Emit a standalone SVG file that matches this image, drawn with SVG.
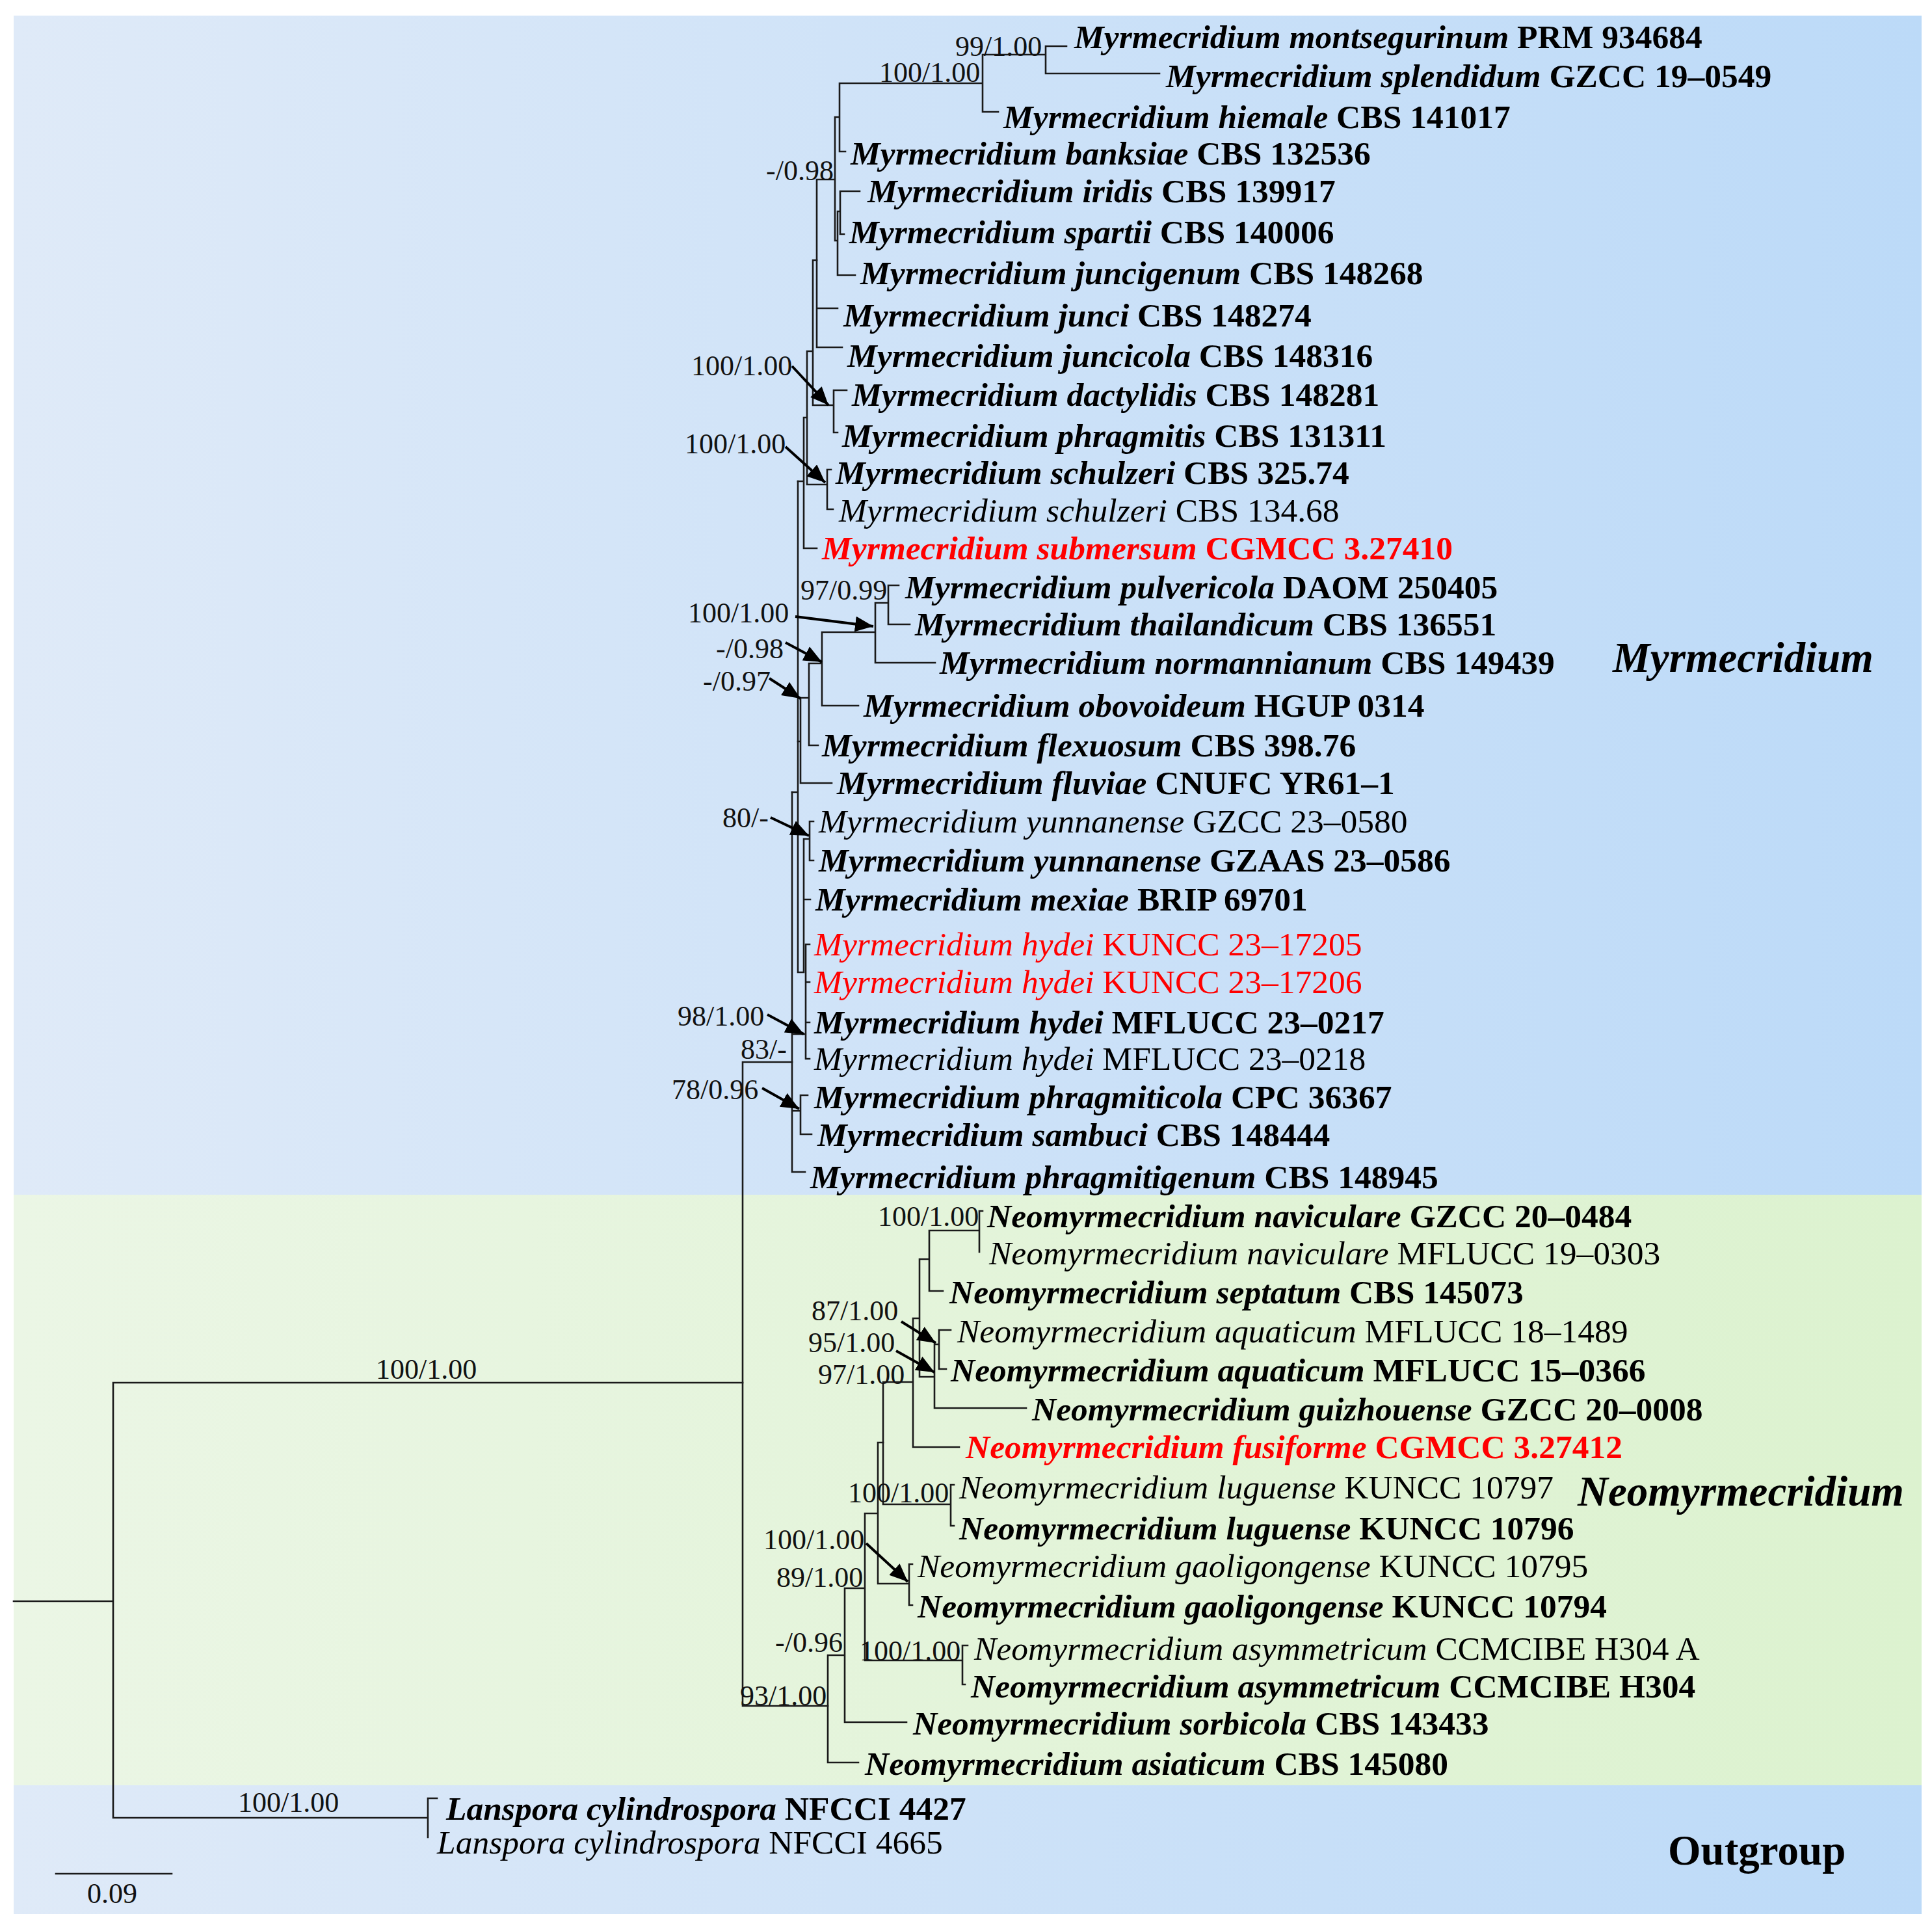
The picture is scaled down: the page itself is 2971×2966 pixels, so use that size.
<svg xmlns="http://www.w3.org/2000/svg" width="2971" height="2966" viewBox="0 0 2971 2966">
<defs>
<linearGradient id="gBlue" x1="0" y1="0" x2="1" y2="0"><stop offset="0" stop-color="#dfeaf8"/><stop offset="1" stop-color="#bcdaf8"/></linearGradient>
<linearGradient id="gGreen" x1="0" y1="0" x2="1" y2="0"><stop offset="0" stop-color="#ebf6e5"/><stop offset="1" stop-color="#dcf2cf"/></linearGradient>
<marker id="ah" markerUnits="userSpaceOnUse" markerWidth="30" markerHeight="24" refX="28" refY="12" orient="auto"><path d="M0,0 L28,12 L0,24 z" fill="#000"/></marker>
<style>
.t{font-family:"Liberation Serif","Times New Roman",serif;font-size:51.5px;fill:#000}
.b{font-weight:bold}
.i{font-style:italic}
.red{fill:#ff0000}
.lab{font-family:"Liberation Serif","Times New Roman",serif;font-size:44px;fill:#111}
.clade{font-family:"Liberation Serif","Times New Roman",serif;font-size:65px;font-weight:bold;fill:#000}
.tree{fill:none;stroke:#1a1a1a;stroke-width:2.6;stroke-linecap:square}
.arr{fill:none;stroke:#000;stroke-width:4}
</style>
</defs>
<rect width="2971" height="2966" fill="#ffffff"/>
<g id="panels">
<rect x="21" y="24" width="2934" height="1813" fill="url(#gBlue)"/>
<rect x="21" y="1837" width="2934" height="908" fill="url(#gGreen)"/>
<rect x="21" y="2745" width="2934" height="198" fill="url(#gBlue)"/>
</g>
<g id="connectors" class="tree">
<path d="M21,2462 H174 M174,2126 V2795 M174,2126 H1142 M174,2795 H658 M658,2765 V2825 M658,2765 H672"/>
<path d="M1142,1633 V2623 M1142,1633 H1218 M1142,2623 H1273"/>
<path d="M1218,1218 V1802 M1218,1802 H1238 M1218,1708 H1231 M1231,1684 V1744 M1231,1684 H1242 M1231,1744 H1248 M1218,1590 H1239 M1239,1452 V1628 M1239,1452 H1245 M1239,1510 H1245 M1239,1572 H1245 M1239,1628 H1245"/>
<path d="M1218,1218 H1227 M1227,740 V1495 M1227,1495 H1236 M1236,1290 V1495 M1236,1290 H1245 M1245,1263 V1323 M1245,1263 H1251 M1245,1323 H1251 M1236,1383 H1246"/>
<path d="M1227,1140 H1231 M1231,1073 V1204 M1231,1204 H1279 M1231,1073 H1244 M1244,1020 V1146 M1244,1146 H1258 M1244,1020 H1264 M1264,972 V1085 M1264,1085 H1320 M1264,972 H1346 M1346,927 V1019 M1346,1019 H1438 M1346,927 H1366 M1366,900 V960 M1366,900 H1382 M1366,960 H1399"/>
<path d="M1227,740 H1236 M1236,642 V843 M1236,843 H1256 M1236,642 H1241 M1241,540 V745 M1241,745 H1272 M1272,722 V783 M1272,722 H1278 M1272,783 H1281 M1241,540 H1250 M1250,400 V623 M1250,623 H1282 M1282,600 V665 M1282,600 H1302 M1282,665 H1288 M1250,400 H1256"/>
<path d="M1256,276 V534 M1256,474 H1288 M1256,534 H1295 M1256,276 H1284 M1284,180 V370 M1284,180 H1291 M1291,128 V233 M1291,233 H1300 M1291,128 H1511 M1511,84 V172 M1511,172 H1535 M1511,84 H1608 M1608,71 V113 M1608,71 H1640 M1608,113 H1783 M1284,370 H1288 M1288,325 V423 M1288,423 H1315 M1288,325 H1292 M1292,294 V360 M1292,294 H1322 M1292,360 H1298"/>
<path d="M1273,2545 V2710 M1273,2710 H1320 M1273,2545 H1299 M1299,2442 V2648 M1299,2648 H1394 M1299,2442 H1330 M1330,2327 V2553 M1330,2553 H1480 M1480,2530 V2590 M1480,2530 H1488 M1480,2590 H1484 M1330,2327 H1350 M1350,2218 V2435 M1350,2435 H1398 M1398,2405 V2468 M1398,2405 H1403 M1398,2468 H1403 M1350,2218 H1358"/>
<path d="M1358,2125 V2313 M1358,2313 H1462 M1462,2283 V2346 M1462,2283 H1467 M1462,2346 H1467 M1358,2125 H1404 M1404,2027 V2225 M1404,2225 H1475 M1404,2027 H1414 M1414,1936 V2117 M1414,1936 H1429 M1414,2117 H1437 M1437,2067 V2165 M1437,2165 H1578 M1437,2067 H1444 M1444,2045 V2105 M1444,2045 H1462 M1444,2105 H1455 M1429,1892 V1985 M1429,1985 H1450 M1429,1892 H1506 M1506,1862 V1925 M1506,1862 H1511"/>
<path d="M86,2881 H264"/>
</g>
<g id="arrows" class="arr">
<line x1="1218" y1="563" x2="1274" y2="623" marker-end="url(#ah)"/>
<line x1="1208" y1="687" x2="1269" y2="742" marker-end="url(#ah)"/>
<line x1="1223" y1="948" x2="1343" y2="963" marker-end="url(#ah)"/>
<line x1="1208" y1="988" x2="1264" y2="1018" marker-end="url(#ah)"/>
<line x1="1183" y1="1043" x2="1231" y2="1074" marker-end="url(#ah)"/>
<line x1="1185" y1="1257" x2="1244" y2="1285" marker-end="url(#ah)"/>
<line x1="1180" y1="1560" x2="1236" y2="1590" marker-end="url(#ah)"/>
<line x1="1172" y1="1673" x2="1229" y2="1705" marker-end="url(#ah)"/>
<line x1="1386" y1="2032" x2="1439" y2="2065" marker-end="url(#ah)"/>
<line x1="1378" y1="2077" x2="1437" y2="2110" marker-end="url(#ah)"/>
<line x1="1332" y1="2373" x2="1396" y2="2432" marker-end="url(#ah)"/>
</g>
<g id="support-labels" class="lab">
<text x="1469" y="86">99/1.00</text>
<text x="1352" y="126">100/1.00</text>
<text x="1178" y="277">-/0.98</text>
<text x="1063" y="577">100/1.00</text>
<text x="1053" y="697">100/1.00</text>
<text x="1231" y="922">97/0.99</text>
<text x="1058" y="957">100/1.00</text>
<text x="1101" y="1012">-/0.98</text>
<text x="1081" y="1062">-/0.97</text>
<text x="1111" y="1272">80/-</text>
<text x="1042" y="1577">98/1.00</text>
<text x="1139" y="1628">83/-</text>
<text x="1033" y="1690">78/0.96</text>
<text x="1350" y="1885">100/1.00</text>
<text x="1248" y="2030">87/1.00</text>
<text x="1243" y="2079">95/1.00</text>
<text x="1258" y="2128">97/1.00</text>
<text x="1304" y="2310">100/1.00</text>
<text x="1174" y="2382">100/1.00</text>
<text x="1194" y="2440">89/1.00</text>
<text x="1192" y="2540">-/0.96</text>
<text x="1322" y="2553">100/1.00</text>
<text x="1138" y="2622">93/1.00</text>
<text x="578" y="2120">100/1.00</text>
<text x="366" y="2786">100/1.00</text>
<text x="134" y="2926">0.09</text>
</g>
<g id="tips">
<g id="n1"><text class="t b" x="1652" y="74"><tspan class="i">Myrmecridium montsegurinum</tspan> PRM 934684</text></g>
<g id="n2"><text class="t b" x="1793" y="134"><tspan class="i">Myrmecridium splendidum</tspan> GZCC 19–0549</text></g>
<g id="n3"><text class="t b" x="1543" y="197"><tspan class="i">Myrmecridium hiemale</tspan> CBS 141017</text></g>
<g id="n4"><text class="t b" x="1308" y="253"><tspan class="i">Myrmecridium banksiae</tspan> CBS 132536</text></g>
<g id="n5"><text class="t b" x="1334" y="311"><tspan class="i">Myrmecridium iridis</tspan> CBS 139917</text></g>
<g id="n6"><text class="t b" x="1306" y="374"><tspan class="i">Myrmecridium spartii</tspan> CBS 140006</text></g>
<g id="n7"><text class="t b" x="1323" y="437"><tspan class="i">Myrmecridium juncigenum</tspan> CBS 148268</text></g>
<g id="n8"><text class="t b" x="1297" y="502"><tspan class="i">Myrmecridium junci</tspan> CBS 148274</text></g>
<g id="n9"><text class="t b" x="1303" y="564"><tspan class="i">Myrmecridium juncicola</tspan> CBS 148316</text></g>
<g id="n10"><text class="t b" x="1310" y="624"><tspan class="i">Myrmecridium dactylidis</tspan> CBS 148281</text></g>
<g id="n11"><text class="t b" x="1295" y="687"><tspan class="i">Myrmecridium phragmitis</tspan> CBS 131311</text></g>
<g id="n12"><text class="t b" x="1285" y="744"><tspan class="i">Myrmecridium schulzeri</tspan> CBS 325.74</text></g>
<g id="n13"><text class="t" x="1290" y="802"><tspan class="i">Myrmecridium schulzeri</tspan> CBS 134.68</text></g>
<g id="n14"><text class="t b red" x="1264" y="860"><tspan class="i">Myrmecridium submersum</tspan> CGMCC 3.27410</text></g>
<g id="n15"><text class="t b" x="1392" y="920"><tspan class="i">Myrmecridium pulvericola</tspan> DAOM 250405</text></g>
<g id="n16"><text class="t b" x="1407" y="977"><tspan class="i">Myrmecridium thailandicum</tspan> CBS 136551</text></g>
<g id="n17"><text class="t b" x="1445" y="1036"><tspan class="i">Myrmecridium normannianum</tspan> CBS 149439</text></g>
<g id="n18"><text class="t b" x="1328" y="1102"><tspan class="i">Myrmecridium obovoideum</tspan> HGUP 0314</text></g>
<g id="n19"><text class="t b" x="1264" y="1163"><tspan class="i">Myrmecridium flexuosum</tspan> CBS 398.76</text></g>
<g id="n20"><text class="t b" x="1287" y="1221"><tspan class="i">Myrmecridium fluviae</tspan> CNUFC YR61–1</text></g>
<g id="n21"><text class="t" x="1259" y="1280"><tspan class="i">Myrmecridium yunnanense</tspan> GZCC 23–0580</text></g>
<g id="n22"><text class="t b" x="1259" y="1340"><tspan class="i">Myrmecridium yunnanense</tspan> GZAAS 23–0586</text></g>
<g id="n23"><text class="t b" x="1254" y="1400"><tspan class="i">Myrmecridium mexiae</tspan> BRIP 69701</text></g>
<g id="n24"><text class="t red" x="1252" y="1469"><tspan class="i">Myrmecridium hydei</tspan> KUNCC 23–17205</text></g>
<g id="n25"><text class="t red" x="1252" y="1527"><tspan class="i">Myrmecridium hydei</tspan> KUNCC 23–17206</text></g>
<g id="n26"><text class="t b" x="1252" y="1589"><tspan class="i">Myrmecridium hydei</tspan> MFLUCC 23–0217</text></g>
<g id="n27"><text class="t" x="1252" y="1645"><tspan class="i">Myrmecridium hydei</tspan> MFLUCC 23–0218</text></g>
<g id="n28"><text class="t b" x="1252" y="1704"><tspan class="i">Myrmecridium phragmiticola</tspan> CPC 36367</text></g>
<g id="n29"><text class="t b" x="1257" y="1762"><tspan class="i">Myrmecridium sambuci</tspan> CBS 148444</text></g>
<g id="n30"><text class="t b" x="1246" y="1827"><tspan class="i">Myrmecridium phragmitigenum</tspan> CBS 148945</text></g>
<g id="n31"><text class="t b" x="1518" y="1887"><tspan class="i">Neomyrmecridium naviculare</tspan> GZCC 20–0484</text></g>
<g id="n32"><text class="t" x="1521" y="1944"><tspan class="i">Neomyrmecridium naviculare</tspan> MFLUCC 19–0303</text></g>
<g id="n33"><text class="t b" x="1460" y="2004"><tspan class="i">Neomyrmecridium septatum</tspan> CBS 145073</text></g>
<g id="n34"><text class="t" x="1472" y="2064"><tspan class="i">Neomyrmecridium aquaticum</tspan> MFLUCC 18–1489</text></g>
<g id="n35"><text class="t b" x="1462" y="2124"><tspan class="i">Neomyrmecridium aquaticum</tspan> MFLUCC 15–0366</text></g>
<g id="n36"><text class="t b" x="1587" y="2184"><tspan class="i">Neomyrmecridium guizhouense</tspan> GZCC 20–0008</text></g>
<g id="n37"><text class="t b red" x="1485" y="2242"><tspan class="i">Neomyrmecridium fusiforme</tspan> CGMCC 3.27412</text></g>
<g id="n38"><text class="t" x="1475" y="2304"><tspan class="i">Neomyrmecridium luguense</tspan> KUNCC 10797</text></g>
<g id="n39"><text class="t b" x="1475" y="2367"><tspan class="i">Neomyrmecridium luguense</tspan> KUNCC 10796</text></g>
<g id="n40"><text class="t" x="1411" y="2425"><tspan class="i">Neomyrmecridium gaoligongense</tspan> KUNCC 10795</text></g>
<g id="n41"><text class="t b" x="1411" y="2487"><tspan class="i">Neomyrmecridium gaoligongense</tspan> KUNCC 10794</text></g>
<g id="n42"><text class="t" x="1498" y="2552"><tspan class="i">Neomyrmecridium asymmetricum</tspan> CCMCIBE H304 A</text></g>
<g id="n43"><text class="t b" x="1493" y="2610"><tspan class="i">Neomyrmecridium asymmetricum</tspan> CCMCIBE H304</text></g>
<g id="n44"><text class="t b" x="1404" y="2667"><tspan class="i">Neomyrmecridium sorbicola</tspan> CBS 143433</text></g>
<g id="n45"><text class="t b" x="1330" y="2729"><tspan class="i">Neomyrmecridium asiaticum</tspan> CBS 145080</text></g>
<g id="n46"><text class="t b" x="686" y="2798"><tspan class="i">Lanspora cylindrospora</tspan> NFCCI 4427</text></g>
<g id="n47"><text class="t" x="672" y="2850"><tspan class="i">Lanspora cylindrospora</tspan> NFCCI 4665</text></g>
</g>
<g id="clade-labels">
<text class="clade" x="2480" y="1033" font-style="italic">Myrmecridium</text>
<text class="clade" x="2426" y="2315" font-style="italic">Neomyrmecridium</text>
<text class="clade" x="2565" y="2867">Outgroup</text>
</g>
</svg>
